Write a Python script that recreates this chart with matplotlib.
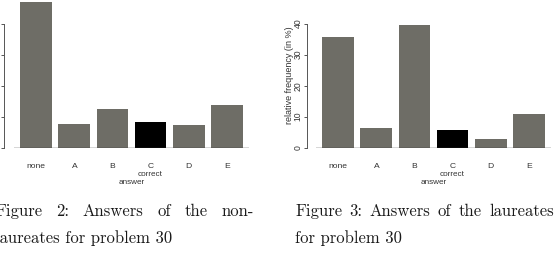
"""Two R-style bar charts of answer frequencies with their LaTeX-like captions."""

import matplotlib
matplotlib.use("Agg")
import matplotlib.pyplot as plt

categories = ["none", "A", "B", "C", "D", "E"]
correct_answer = "C"
nonlaureates = [46.8, 7.5, 12.6, 8.2, 7.3, 13.8]
laureates = [35.7, 6.3, 39.6, 5.6, 2.9, 10.9]
y_ticks = [0, 10, 20, 30, 40]
y_label = "relative frequency (in %)"
x_label = "answer"

captions = [
    ["Figure 2: Answers of the non-", "laureates for problem 30"],
    ["Figure 3: Answers of the laureates", "for problem 30"],
]

W, H = 558, 267
BAR = "#6e6d66"
SANS = ["Liberation Sans", "DejaVu Sans"]
SERIF = ["cmr10", "DejaVu Serif"]


def draw_panel(fig, left_px, values, spine_gap_px):
    axes = fig.add_axes([left_px / W, 1 - 147.7 / H, 235 / W, 147.7 / H])
    centers = [0.7 + 1.2 * i for i in range(len(values))]
    colors = ["black" if c == correct_answer else BAR for c in categories]
    axes.bar(centers, values, width=1.0, color=colors, linewidth=0)
    axes.set_xlim(0, 7.4)
    axes.set_ylim(0, 47.6)
    axes.axhline(0, color="#333333", linewidth=1.0)

    for side in ("top", "right", "bottom"):
        axes.spines[side].set_visible(False)
    axes.spines["left"].set_position(("outward", spine_gap_px * 0.72))
    axes.spines["left"].set_bounds(0, 40)
    axes.spines["left"].set_color("#555555")
    axes.spines["left"].set_linewidth(0.7)

    axes.set_yticks(y_ticks)
    axes.set_yticklabels([str(t) for t in y_ticks], rotation=90, va="center",
                         fontsize=6.2, family=SANS, color="#333333")
    axes.tick_params(axis="y", length=2.2, width=0.7, color="#555555", pad=0.8)

    axes.set_xticks(centers)
    axes.set_xticklabels(categories, fontsize=6.1, family=SANS, color="#333333")
    axes.tick_params(axis="x", length=0, pad=10.9)

    c_index = categories.index(correct_answer)
    axes.annotate("correct", xy=(centers[c_index], 0), xycoords=("data", "axes fraction"),
                  xytext=(0, -19.6), textcoords="offset points", ha="center", va="center",
                  fontsize=5.9, family=SANS, color="#333333")
    axes.annotate(x_label, xy=(0.5, 0), xycoords="axes fraction",
                  xytext=(0, -25.0), textcoords="offset points", ha="center", va="center",
                  fontsize=5.9, family=SANS, color="#333333")
    fig.text(left_px / W - (spine_gap_px + 16.5) / W, 1 - 75.5 / H, y_label,
             rotation=90, ha="center", va="center", fontsize=6.5, family=SANS,
             color="#333333")
    return axes


def justified(fig, renderer, text, x0, x1, baseline, size):
    words = text.split()
    items = [fig.text(0, 1 - baseline / H, w, fontsize=size, family=SERIF,
                      va="baseline", ha="left", color="#1a1a1a") for w in words]
    widths = [t.get_window_extent(renderer).width for t in items]
    gap = (x1 - x0 - sum(widths)) / (len(words) - 1)
    x = x0
    for t, w in zip(items, widths):
        t.set_x(x / W)
        x += w + gap


fig = plt.figure(figsize=(W / 100, H / 100), dpi=100)
draw_panel(fig, 14, nonlaureates, 10)
draw_panel(fig, 316, laureates, 9.5)

renderer = fig.canvas.get_renderer()
size = 12.0
for (first, second), (x0, x1) in zip(captions, [(-5, 254), (295, 554)]):
    justified(fig, renderer, first, x0, x1, 215.7, size)
    fig.text(x0 / W, 1 - 242.5 / H, second, fontsize=size, family=SERIF,
             va="baseline", ha="left", color="#1a1a1a")

fig.savefig("out.png", dpi=100)
